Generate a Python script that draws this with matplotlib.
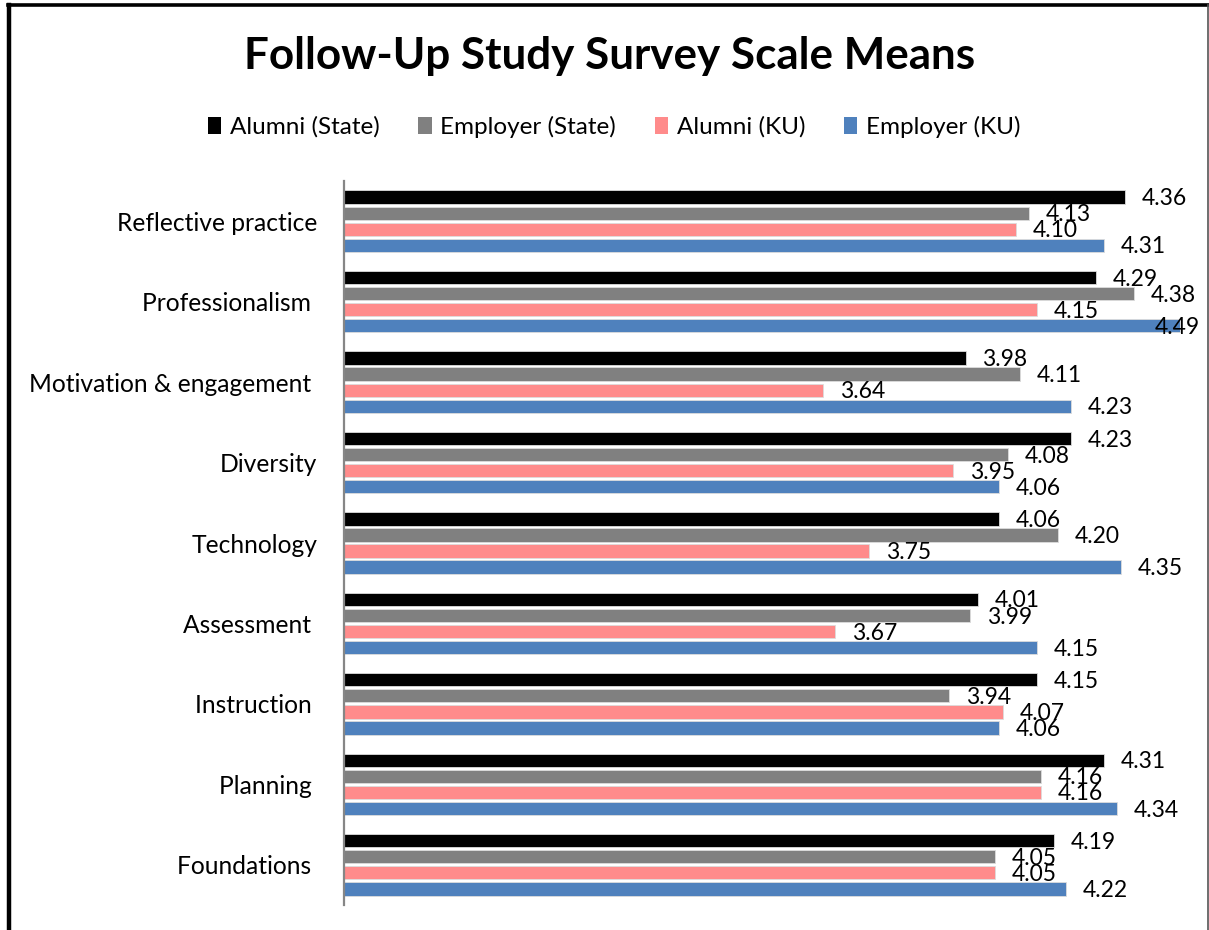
import numpy as np
import matplotlib.pyplot as plt
from matplotlib.patches import Patch
from matplotlib.lines import Line2D

plt.rcParams['font.family'] = ['Lato', 'DejaVu Sans']

categories = ["Reflective practice", "Professionalism ", "Motivation & engagement ",
              "Diversity", "Technology", "Assessment ", "Instruction ", "Planning ",
              "Foundations "]
series_names = ["Alumni (State)", "Employer (State)", "Alumni (KU)", "Employer (KU)"]
alumni_state = [4.36, 4.29, 3.98, 4.23, 4.06, 4.01, 4.15, 4.31, 4.19]
employer_state = [4.13, 4.38, 4.11, 4.08, 4.20, 3.99, 3.94, 4.16, 4.05]
alumni_ku = [4.10, 4.15, 3.64, 3.95, 3.75, 3.67, 4.07, 4.16, 4.05]
employer_ku = [4.31, 4.49, 4.23, 4.06, 4.35, 4.15, 4.06, 4.34, 4.22]
colors = ['#000000', '#808080', '#FF8B8B', '#4F81BD']

W, H = 1209, 930
fig = plt.figure(figsize=(W / 100, H / 100), dpi=100)
# axes box in pixels: left 344, right 1184, top 181, bottom 905
ax = fig.add_axes([344 / W, 1 - 905 / H, (1184 - 344) / W, (905 - 181) / H])

n = len(categories)
ypos = np.arange(n)[::-1]  # first category at top
offsets = [0.3, 0.1, -0.1, -0.3]
all_series = [alumni_state, employer_state, alumni_ku, employer_ku]
x_min, x_max = 2.5, 4.5

for vals, off, col, name in zip(all_series, offsets, colors, series_names):
    ax.barh(ypos + off, np.array(vals) - x_min, left=x_min, height=0.165,
            color=col, edgecolor='#dcdcdc', linewidth=0.6, label=name)
    for y, v in zip(ypos, vals):
        ax.text(min(v + 0.04, 4.43), y + off - 0.02, f"{v:.2f}", ha='left',
                va='center', fontsize=16.5, color='black')

ax.set_xlim(x_min, x_max)
ax.set_ylim(-0.5, n - 0.5)
ax.set_yticks(ypos)
ax.set_yticklabels(categories, fontsize=17.7)
ax.tick_params(axis='y', length=0, pad=19)
ax.set_xticks([])
for s in ['top', 'right', 'bottom']:
    ax.spines[s].set_visible(False)
ax.spines['left'].set_color('#868686')
ax.spines['left'].set_linewidth(1.6)

fig.text(610 / W, 1 - 56 / H, "Follow-Up Study Survey Scale Means",
         ha='center', va='center', fontsize=31.7, fontweight='bold')

handles = [Patch(facecolor=c, edgecolor='none') for c in colors]
fig.legend(handles, series_names, loc='center', bbox_to_anchor=(614 / W, 1 - 127 / H),
           ncol=4, frameon=False, fontsize=17.5, handlelength=0.55, handleheight=0.65,
           handletextpad=0.35, columnspacing=1.6)

# outer frame of the chart
fig.add_artist(Line2D([9 / W, 9 / W], [0, 1 - 5 / H], color='black', lw=3.2))
fig.add_artist(Line2D([7.5 / W, 1], [1 - 5.5 / H, 1 - 5.5 / H], color='black', lw=2.6))
fig.add_artist(Line2D([1207.5 / W, 1207.5 / W], [0, 1 - 5 / H], color='#555555', lw=1.2))

fig.savefig('out.png', dpi=100)
